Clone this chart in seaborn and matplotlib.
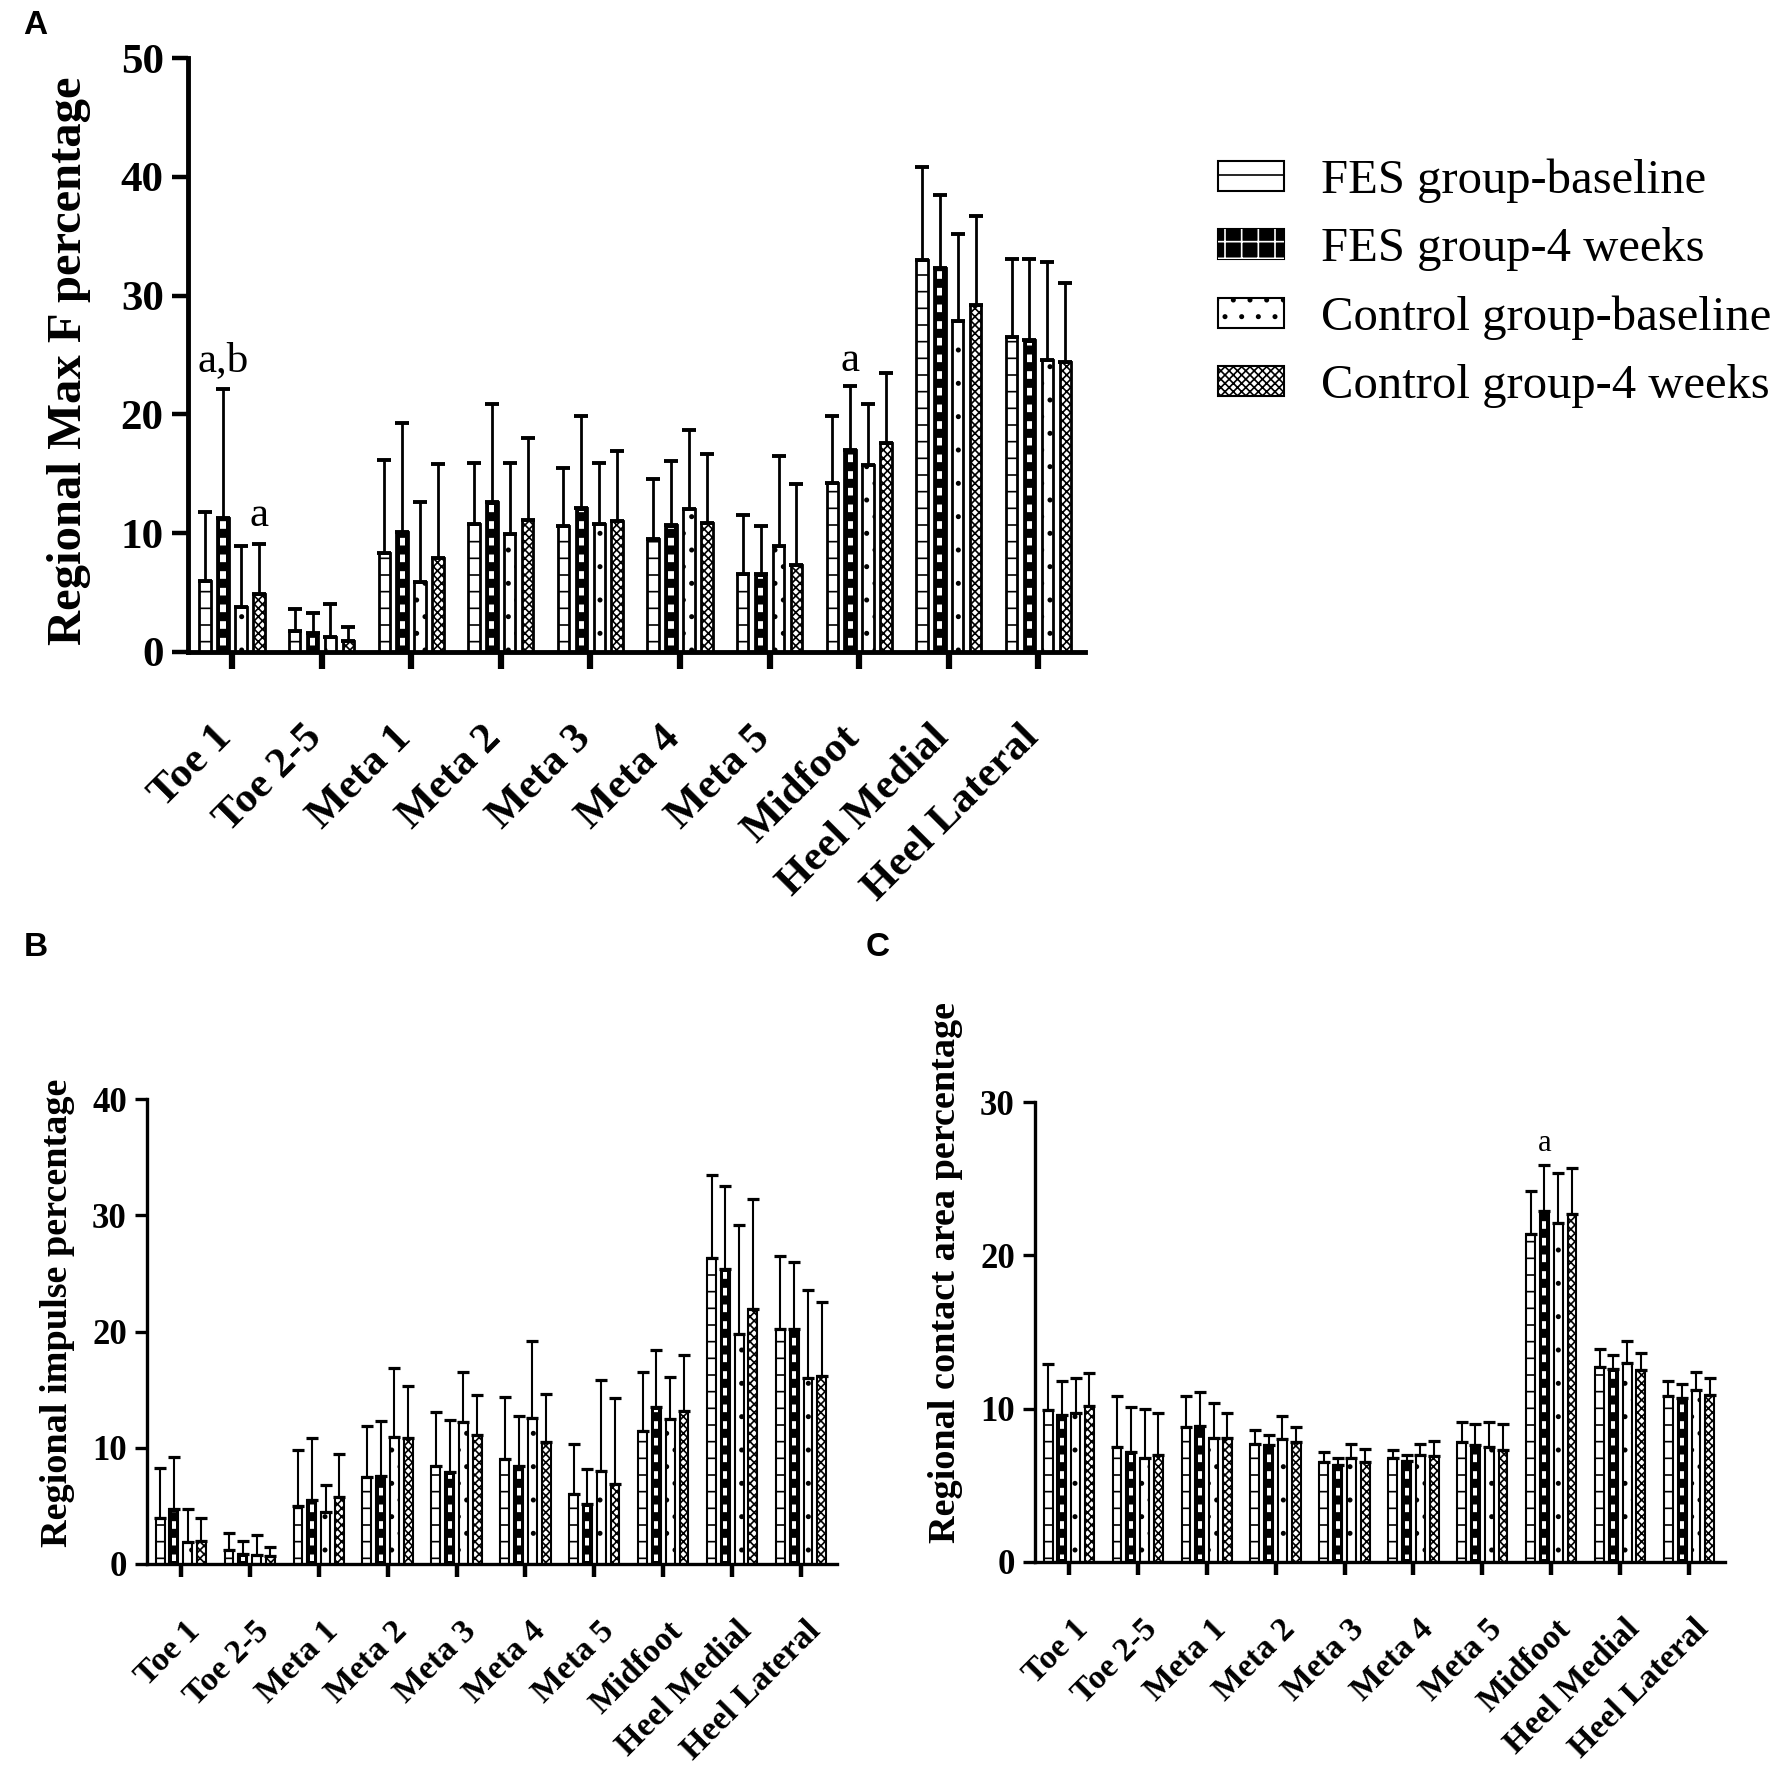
import numpy as np
import pandas as pd
import seaborn as sns
import matplotlib.pyplot as plt
from matplotlib.patches import Patch, Rectangle
import matplotlib.transforms as mtransforms

# data
regions = ['Toe 1', 'Toe 2-5', 'Meta 1', 'Meta 2', 'Meta 3', 'Meta 4', 'Meta 5',
           'Midfoot', 'Heel Medial', 'Heel Lateral']
groups = ['FES group-baseline', 'FES group-4 weeks',
          'Control group-baseline', 'Control group-4 weeks']

# A - regional max F percentage (mean, SD)
maxf_fes_base = [6.0, 1.8, 8.3, 10.8, 10.6, 9.5, 6.6, 14.2, 33.0, 26.5]
maxf_fes_4w = [11.3, 1.6, 10.1, 12.6, 12.1, 10.7, 6.6, 17.0, 32.3, 26.3]
maxf_ctl_base = [3.8, 1.3, 5.9, 9.9, 10.8, 12.0, 8.9, 15.7, 27.9, 24.6]
maxf_ctl_4w = [4.9, 0.9, 7.9, 11.1, 11.0, 10.9, 7.3, 17.6, 29.2, 24.4]
maxf_sd_fes_base = [5.8, 1.8, 7.9, 5.1, 4.9, 5.1, 4.9, 5.7, 7.8, 6.6]
maxf_sd_fes_4w = [10.8, 1.7, 9.2, 8.3, 7.8, 5.4, 4.0, 5.4, 6.2, 6.8]
maxf_sd_ctl_base = [5.1, 2.7, 6.7, 6.0, 5.1, 6.7, 7.6, 5.2, 7.3, 8.2]
maxf_sd_ctl_4w = [4.2, 1.2, 7.9, 6.9, 5.9, 5.8, 6.8, 5.9, 7.5, 6.7]

# B - regional impulse percentage
imp_fes_base = [4.0, 1.2, 5.0, 7.5, 8.4, 9.0, 6.0, 11.4, 26.3, 20.2]
imp_fes_4w = [4.7, 0.9, 5.5, 7.6, 7.9, 8.4, 5.2, 13.5, 25.4, 20.2]
imp_ctl_base = [1.9, 0.8, 4.5, 10.9, 12.2, 12.6, 8.0, 12.5, 19.8, 16.0]
imp_ctl_4w = [2.0, 0.7, 5.8, 10.8, 11.1, 10.5, 6.9, 13.2, 21.9, 16.2]
imp_sd_fes_base = [4.3, 1.5, 4.8, 4.4, 4.7, 5.4, 4.3, 5.1, 7.2, 6.3]
imp_sd_fes_4w = [4.5, 1.1, 5.3, 4.7, 4.5, 4.3, 3.0, 4.9, 7.1, 5.8]
imp_sd_ctl_base = [2.8, 1.7, 2.3, 6.0, 4.3, 6.6, 7.8, 3.6, 9.4, 7.6]
imp_sd_ctl_4w = [2.0, 0.8, 3.7, 4.5, 3.4, 4.1, 7.4, 4.8, 9.5, 6.3]

# C - regional contact area percentage
area_fes_base = [9.9, 7.5, 8.8, 7.7, 6.5, 6.8, 7.8, 21.4, 12.7, 10.8]
area_fes_4w = [9.6, 7.2, 8.9, 7.6, 6.3, 6.6, 7.6, 22.9, 12.6, 10.7]
area_ctl_base = [9.7, 6.8, 8.1, 8.0, 6.8, 7.0, 7.5, 22.1, 13.0, 11.2]
area_ctl_4w = [10.2, 7.0, 8.1, 7.8, 6.5, 6.9, 7.3, 22.7, 12.5, 10.9]
area_sd_fes_base = [3.0, 3.3, 2.0, 0.9, 0.7, 0.5, 1.3, 2.8, 1.2, 1.0]
area_sd_fes_4w = [2.2, 2.9, 2.2, 0.7, 0.5, 0.4, 1.4, 3.0, 0.9, 0.9]
area_sd_ctl_base = [2.3, 3.2, 2.3, 1.5, 0.9, 0.7, 1.6, 3.3, 1.4, 1.2]
area_sd_ctl_4w = [2.1, 2.7, 1.6, 1.0, 0.9, 1.0, 1.7, 3.0, 1.1, 1.1]

sns.set_style('ticks')
plt.rcParams['font.family'] = ['Liberation Serif', 'DejaVu Serif']
plt.rcParams['hatch.linewidth'] = 1.2
for k in ['text.color', 'axes.labelcolor', 'xtick.color', 'ytick.color',
          'axes.edgecolor']:
    plt.rcParams[k] = 'black'

W, H = 1779, 1770
fig = plt.figure(figsize=(W / 100, H / 100), dpi=100)


def make_df(means, sds):
    rows = []
    for g, m, s in zip(groups, means, sds):
        for r, v, e in zip(regions, m, s):
            rows.append({'region': r, 'group': g, 'value': v, 'sd': e})
    return pd.DataFrame(rows)


def draw_panel(ax, df, ymax, ylabel, s):
    sns.barplot(data=df, x='region', y='value', hue='group', order=regions,
                hue_order=groups, palette=['white'] * 4, errorbar=None,
                width=0.8, gap=0.36, legend=False, ax=ax)
    ax.set_xlim(-0.49, 9.52)
    ax.set_ylim(0, ymax)
    ax_h_px = ax.get_position().height * H
    margin = ymax * 3.0 / ax_h_px
    bar_conts = list(ax.containers)
    for i, cont in enumerate(bar_conts):
        sub = df[df.group == groups[i]].set_index('region').loc[regions]
        xs = []
        for p in cont.patches:
            p.set_edgecolor('black')
            p.set_linewidth(s['bar_lw'])
            if i == 0:
                p.set_facecolor('white')
                p.set_hatch('-')
            elif i == 1:
                # black bar with a column of white squares
                p.set_facecolor('black')
                w = p.get_width()
                hgt = p.get_height()
                if hgt > 2 * margin:
                    r = Rectangle((p.get_x() + 0.27 * w, margin), 0.46 * w,
                                  hgt - 2 * margin, facecolor='none',
                                  edgecolor='white', linewidth=0, hatch='-',
                                  zorder=p.get_zorder() + 0.1)
                    if hasattr(r, 'set_hatch_linewidth'):
                        r.set_hatch_linewidth(5.5)
                    ax.add_patch(r)
            elif i == 2:
                p.set_facecolor('white')
                p.set_hatch('.')
            else:
                p.set_facecolor('white')
                p.set_hatch('xxxx')
            xs.append(p.get_x() + p.get_width() / 2)
        # upper SD only
        ax.errorbar(xs, sub['value'].values,
                    yerr=[np.zeros(len(xs)), sub['sd'].values],
                    fmt='none', ecolor='black', elinewidth=s['err_lw'],
                    capsize=s['cap'], capthick=s['err_lw'] + 0.8, zorder=1)
    ax.set_xlabel('')
    ax.set_ylabel(ylabel, fontsize=s['ylab'], fontweight='bold')
    ax.yaxis.set_label_coords(s['ylab_x'], s['ylab_y'])
    ax.set_yticks(np.arange(0, ymax + 1, 10))
    for sp in ['top', 'right']:
        ax.spines[sp].set_visible(False)
    for sp in ['left', 'bottom']:
        ax.spines[sp].set_linewidth(s['spine'])
    ax.tick_params(axis='y', length=s['ytl'], width=s['ytw'],
                   labelsize=s['tick'], pad=6)
    ax.tick_params(axis='x', length=s['xtl'], width=s['xtw'],
                   labelsize=s['xtick'], pad=s['xpad'])
    for lab in ax.get_yticklabels():
        lab.set_fontweight('bold')
    off = mtransforms.ScaledTranslation(s['xoff'] / 100, 0, fig.dpi_scale_trans)
    for lab in ax.get_xticklabels():
        lab.set_rotation(45)
        lab.set_ha('right')
        lab.set_va('top')
        lab.set_rotation_mode('anchor')
        lab.set_fontweight('bold')
        lab.set_transform(lab.get_transform() + off)


big = dict(bar_lw=2.0, err_lw=2.0, cap=5, ylab=35, ylab_x=-0.108, ylab_y=0.49,
           spine=3.5, ytl=11.5, ytw=3.2, xtl=12, xtw=4.5, tick=31, xtick=31,
           xpad=36, xoff=-19)
small = dict(bar_lw=1.5, err_lw=1.5, cap=4, ylab=27.5, ylab_x=-0.105,
             ylab_y=0.54, spine=2.4, ytl=8.5, ytw=2.4, xtl=9, xtw=3.2, tick=25,
             xtick=24.5, xpad=28, xoff=4)

axA = fig.add_axes([188 / W, 1 - 652 / H, 897 / W, 594 / H])
draw_panel(axA, make_df([maxf_fes_base, maxf_fes_4w, maxf_ctl_base, maxf_ctl_4w],
                        [maxf_sd_fes_base, maxf_sd_fes_4w, maxf_sd_ctl_base,
                         maxf_sd_ctl_4w]),
           50, 'Regional Max F percentage', big)

axB = fig.add_axes([147 / W, 1 - 1564 / H, 690 / W, 465 / H])
draw_panel(axB, make_df([imp_fes_base, imp_fes_4w, imp_ctl_base, imp_ctl_4w],
                        [imp_sd_fes_base, imp_sd_fes_4w, imp_sd_ctl_base,
                         imp_sd_ctl_4w]),
           40, 'Regional impulse percentage', small)

smallC = dict(small, ylab_y=0.63)
axC = fig.add_axes([1035 / W, 1 - 1562 / H, 690 / W, 460 / H])
draw_panel(axC, make_df([area_fes_base, area_fes_4w, area_ctl_base, area_ctl_4w],
                        [area_sd_fes_base, area_sd_fes_4w, area_sd_ctl_base,
                         area_sd_ctl_4w]),
           30, 'Regional contact area percentage', smallC)

# significance letters
axA.text(-0.1, 24.5, 'a,b', ha='center', va='center', fontsize=31)
axA.text(0.3, 11.5, 'a', ha='center', va='center', fontsize=31)
axA.text(6.9, 24.5, 'a', ha='center', va='center', fontsize=31)
axC.text(6.9, 27.3, 'a', ha='center', va='center', fontsize=22)

# legend
h_fes4 = (Patch(facecolor='black', edgecolor='black', linewidth=1.5),
          Patch(facecolor='none', edgecolor='white', linewidth=0, hatch='+'))
handles = [Patch(facecolor='white', edgecolor='black', hatch='-', linewidth=1.5),
           h_fes4,
           Patch(facecolor='white', edgecolor='black', hatch='.', linewidth=1.5),
           Patch(facecolor='white', edgecolor='black', hatch='xxxx', linewidth=1.5)]
fig.legend(handles, groups, loc='upper left', bbox_to_anchor=(1194 / W, 1 - 134 / H),
           frameon=False, fontsize=35, handlelength=1.36, handleheight=0.58,
           handletextpad=0.75, labelspacing=0.5, borderpad=0)

# panel letters
for lbl, x, y in [('A', 23, 10), ('B', 24, 932), ('C', 866, 932)]:
    fig.text(x / W, 1 - y / H, lbl, fontsize=24, fontweight='bold',
             family=['Liberation Sans', 'DejaVu Sans'], va='top', ha='left')

fig.savefig('out.png', dpi=100)
